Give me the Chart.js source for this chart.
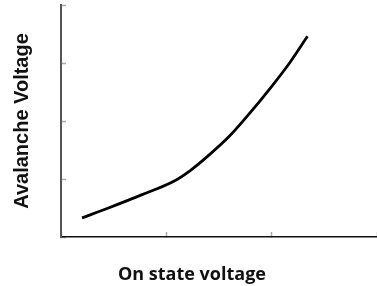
<!DOCTYPE html>
<html>
<head>
<meta charset="utf-8">
<script src="https://cdn.jsdelivr.net/npm/chart.js@4"></script>
<style>
  html, body { margin: 0; padding: 0; background: #ffffff; }
  #wrap { width: 377px; height: 286px; }
</style>
</head>
<body>
<div id="wrap"><canvas id="c" width="377" height="286"></canvas></div>
<script>
const xTitle = "On state voltage";
const yTitle = "Avalanche Voltage";
const onStateVoltage = [0.20, 0.45, 0.77, 1.08, 1.23, 1.41, 1.60, 1.79, 1.98, 2.17, 2.34];
const avalancheVoltage = [0.33, 0.50, 0.73, 0.97, 1.15, 1.42, 1.74, 2.13, 2.55, 3.00, 3.46];

const points = onStateVoltage.map((x, i) => ({ x: x, y: avalancheVoltage[i] }));

new Chart(document.getElementById('c'), {
  type: 'scatter',
  data: {
    datasets: [{
      data: points,
      showLine: true,
      borderColor: '#000000',
      borderWidth: 2.8,
      pointRadius: 0,
      cubicInterpolationMode: 'monotone',
      fill: false
    }]
  },
  options: {
    responsive: false,
    animation: false,
    devicePixelRatio: 1,
    layout: { padding: { top: 5, right: 0, left: 7, bottom: 0 } },
    plugins: {
      legend: { display: false },
      tooltip: { enabled: false },
      title: {
        display: true,
        position: 'bottom',
        text: xTitle,
        color: '#111111',
        font: { family: 'Open Sans', size: 18, weight: 'bold', lineHeight: 1.2 },
        padding: { top: 0, bottom: 0.7 }
      }
    },
    scales: {
      x: {
        type: 'linear',
        min: 0, max: 3,
        afterFit: s => { s.height = 26.7; },
        border: { display: true, color: '#111111', width: 1.5 },
        grid: { display: true, drawOnChartArea: false, drawTicks: true, tickLength: -5, color: '#aaaaaa', tickWidth: 1.5 },
        ticks: { display: false, stepSize: 1 }
      },
      y: {
        type: 'linear',
        min: 0, max: 4,
        afterFit: s => { s.width = 54; },
        border: { display: true, color: '#555555', width: 2 },
        grid: { display: true, drawOnChartArea: false, drawTicks: true, tickLength: -5, color: '#aaaaaa', tickWidth: 1.5 },
        ticks: { display: false, stepSize: 1 },
        title: {
          display: true, text: yTitle, color: '#111111',
          font: { family: 'Liberation Sans', size: 20, weight: 'bold', lineHeight: 1.2 },
          padding: { top: 3.5, bottom: 0 }
        }
      }
    }
  }
});
</script>
</body>
</html>
